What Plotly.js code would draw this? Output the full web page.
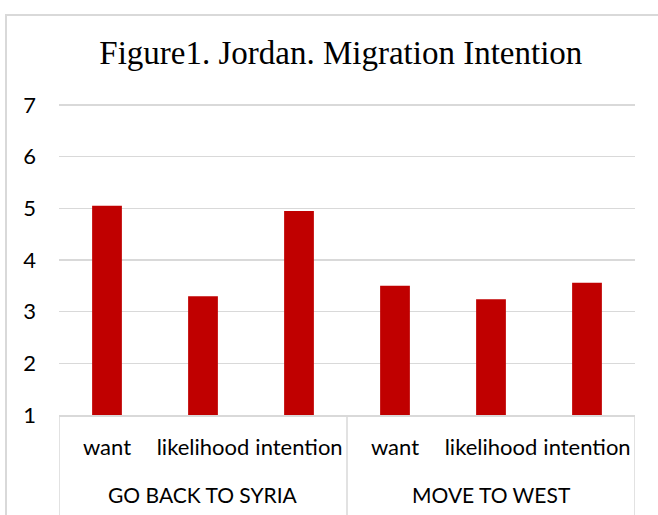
<!DOCTYPE html>
<html>
<head>
<meta charset="utf-8">
<script src="https://cdn.plot.ly/plotly-3.0.1.min.js"></script>
<style>
  html, body { margin: 0; padding: 0; background: #fff; }
  #frame { position: absolute; left: 5px; top: 14px; width: 700px; height: 600px;
           border-left: 2px solid #d9d9d9; border-top: 2px solid #d9d9d9; box-sizing: border-box; }
  #chart { position: absolute; left: 0; top: 0; width: 658px; height: 515px; }
</style>
</head>
<body>
<div id="frame"></div>
<div id="chart"></div>
<script>
// Migration intention scores (scale 1-7)
const groups = ["GO BACK TO SYRIA", "GO BACK TO SYRIA", "GO BACK TO SYRIA",
                "MOVE TO WEST", "MOVE TO WEST", "MOVE TO WEST"];
const measures = ["want", "likelihood", "intention", "want", "likelihood", "intention"];
const scores = [5.05, 3.30, 4.95, 3.50, 3.24, 3.56];
const yTicks = [1, 2, 3, 4, 5, 6, 7];

const labelFont = { family: "Lato, 'Open Sans', sans-serif", size: 22, color: "#000" };
const groupFont = { family: "Lato, 'Open Sans', sans-serif", size: 21, color: "#000" };
const lineColor = "#d9d9d9";

// one slot per bar; measure names become the first row of x labels
const slots = measures.map((_, i) => i);

// group spans -> second row of labels and the divider lines
const groupNames = [...new Set(groups)];
const spans = groupNames.map(g => {
  const idx = slots.filter(i => groups[i] === g);
  return { name: g, first: idx[0], last: idx[idx.length - 1] };
});

// plot box: top padded a little so the top gridline is not clipped
const plotTop = 102, plotBottom = 100, plotH = 515 - plotTop - plotBottom;
const yMin = yTicks[0], yMax = yTicks[yTicks.length - 1];
const yTopPad = 3 * (yMax - yMin) / (plotH - 3);
const belowAxis = px => -px / plotH;

const annotations = spans.map(s => ({
  text: s.name,
  x: (s.first + s.last) / 2, xref: "x",
  y: belowAxis(79), yref: "paper",
  xanchor: "center", yanchor: "middle",
  showarrow: false,
  font: groupFont
}));

const edges = [spans[0].first - 0.5, ...spans.map(s => s.last + 0.5)];
const shapes = edges.map(e => ({
  type: "line", xref: "x", yref: "paper",
  x0: e, x1: e, y0: 0, y1: belowAxis(102),
  line: { color: lineColor, width: 1.5 }
}));

const trace = {
  type: "bar",
  x: slots,
  y: scores,
  marker: { color: "#C00000" },
  hoverinfo: "y"
};

const layout = {
  width: 658,
  height: 515,
  margin: { l: 59, r: 23, t: plotTop, b: plotBottom },
  paper_bgcolor: "rgba(0,0,0,0)",
  plot_bgcolor: "rgba(0,0,0,0)",
  bargap: 0.69,
  showlegend: false,
  title: {
    text: "Figure1. Jordan. Migration Intention",
    font: { family: "'Liberation Serif', serif", size: 33, color: "#000" },
    x: 0.518, xanchor: "center", y: 0.899, yanchor: "middle"
  },
  xaxis: {
    range: [-0.5, slots.length - 0.5],
    tickvals: slots,
    ticktext: measures,
    tickfont: labelFont,
    showline: true, linecolor: lineColor, linewidth: 1.5,
    ticks: "", showgrid: false, zeroline: false,
    ticklabelstandoff: 12
  },
  yaxis: {
    range: [yMin, yMax + yTopPad],
    tickvals: yTicks,
    ticktext: yTicks.map(String),
    tickfont: labelFont,
    showgrid: true, gridcolor: lineColor, gridwidth: 1.5,
    zeroline: false, showline: false, ticks: "",
    ticklabelstandoff: 22
  },
  annotations: annotations,
  shapes: shapes
};

Plotly.newPlot("chart", [trace], layout, { displayModeBar: false, staticPlot: true });
</script>
</body>
</html>
